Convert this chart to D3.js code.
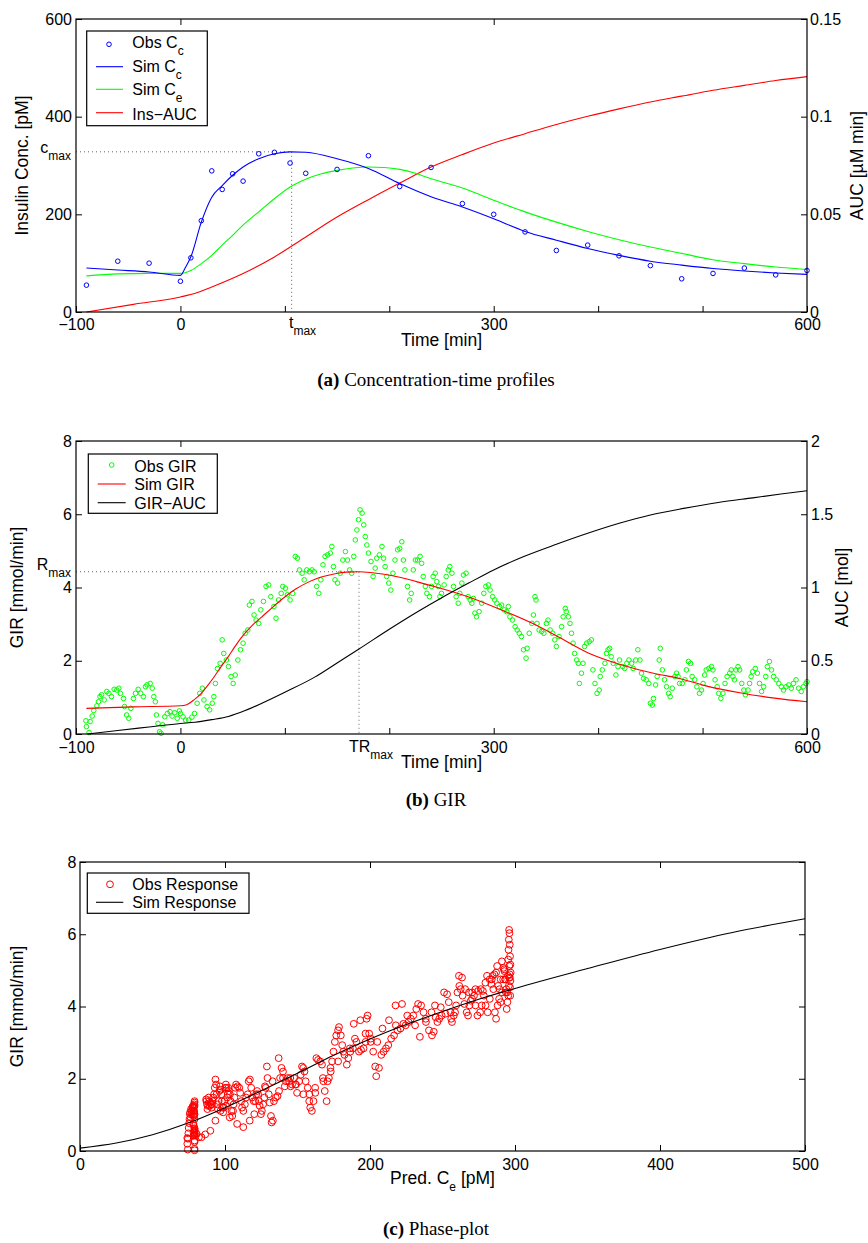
<!DOCTYPE html>
<html>
<head>
<meta charset="utf-8">
<script src="https://cdn.jsdelivr.net/npm/d3@7"></script>
<style>
  body { margin: 0; background: #fff; }
</style>
</head>
<body>
<svg id="fig" width="868" height="1243"></svg>
<script>
// ---- (a) insulin concentration / AUC ----
const ccObs = [[-90,55],[-60,104],[-30,100],[0,63],[10,111],[20,187],[30,289],[40,251],[50,283],[60,268],
  [75,324],[90,327],[105,305],[120,284],[150,292],[180,320],[210,257],[240,296],[270,222],[300,200],
  [330,164],[360,126],[390,137],[420,115],[450,95],[480,68],[510,79],[540,90],[570,76],[600,85]];
const ccSim = [[-90,90],[-60,86],[-30,82],[0,75],[5,92],[10,113],[20,184],[30,235],[40,259],[50,280],
  [60,297],[75,314],[90,324],[105,328],[120,327],[150,314],[180,294],[210,263],[240,236],[270,215],
  [300,191],[330,165],[360,147],[390,130],[420,116],[450,104],[480,96],[510,89],[540,84],[570,80],[600,77]];
const ceSim = [[-90,74],[-60,78],[-30,79],[0,79],[10,85],[20,99],[30,116],[40,137],[50,157],[60,178],
  [75,205],[90,232],[105,256],[120,272],[135,283],[150,290],[165,295],[180,297],[195,296],[210,292],
  [225,284],[240,273],[270,254],[300,229],[330,205],[360,184],[390,165],[420,148],[450,133],[480,120],
  [510,107],[540,99],[570,92],[600,87]];
const insAuc = [[-90,0],[-45,0.0039],[0,0.0077],[15,0.0097],[30,0.0128],[60,0.0197],[90,0.0282],
  [120,0.0384],[150,0.0486],[180,0.0575],[210,0.066],[240,0.0742],[270,0.0806],[300,0.0865],
  [330,0.0913],[360,0.096],[390,0.1002],[420,0.104],[450,0.1075],[480,0.1105],[510,0.1135],
  [540,0.116],[570,0.1185],[600,0.1205]];
const tMax = 106.5, cMax = 328;

// ---- (b) glucose infusion rate ----
const girObs = [[-90.5,0.36],[-90,0.20],[-87.5,0.04],[-86.5,0.34],[-84.5,0.49],[-83,0.64],[-80,0.77],
  [-78.5,0.88],[-77,1.02],[-75.5,1.07],[-73,0.93],[-70.5,1.16],[-68.5,1.11],[-66,1.02],[-63.5,1.22],
  [-61,1.2],[-59,1.25],[-57.5,1.11],[-54.5,0.97],[-53.5,0.75],[-51.5,0.52],[-49.5,0.43],[-47.5,0.7],
  [-45,0.97],[-43,1.11],[-40.5,1.22],[-38,1.11],[-35.5,1.02],[-33.5,1.29],[-32,1.34],[-29,1.38],
  [-27,1.25],[-25.5,1.02],[-24,0.88],[-23,0.52],[-21.5,0.29],[-20,0.06],[-18.5,0.02],[-17,0.25],
  [-15,0.47],[-12.5,0.56],[-10,0.61],[-8,0.49],[-5.5,0.58],[-3,0.43],[-1,0.63],[0,0.56],[2.5,0.47],
  [5,0.38],[8,0.38],[11,0.46],[13.5,0.56],[16,0.84],[18.5,1.11],[21,1.25],[22.5,0.93],[25.5,0.75],
  [28,0.66],[30.5,0.84],[32,1.02],[33.5,1.38],[35.5,1.79],[38,1.93],[40,2.57],[41.5,2.2],[44,2.02],
  [46,1.84],[48.5,1.57],[50.5,1.38],[52.5,1.61],[55,2.02],[57.5,2.3],[60,2.48],[62,2.75],[64.5,2.84],
  [66,3.52],[68.5,3.62],[70.5,3.25],[72.5,3.11],[75,3.02],[77,3.39],[79.5,3.62],[82,4.03],[84.5,4.07],
  [86.5,3.75],[89.5,3.48],[91.5,3.16],[94,3.66],[96.5,3.84],[98,4.03],[100.5,3.98],[102.5,3.8],
  [105,3.66],[107.5,3.84],[110,4.85],[112,4.8],[114,4.48],[116.5,4.39],[118.5,4.21],[121,4.48],
  [123.5,4.43],[126,4.48],[128,4.43],[130.5,4.03],[132.5,3.84],[134.5,4.21],[136.5,4.62],[138.5,4.85],
  [141,4.89],[143.5,4.94],[145,5.12],[146.5,4.57],[148,4.21],[150.5,4.12],[153,4.39],[155.5,4.75],
  [158,4.98],[160,4.75],[162,4.48],[164,4.39],[166,4.85],[167.5,5.3],[169,5.57],[170.5,5.85],
  [172,6.12],[174,6.03],[175.5,5.71],[177,5.39],[178.5,5.16],[180,4.94],[182.5,4.71],[184.5,4.3],
  [186.5,4.53],[188,4.8],[190.5,4.89],[193,5.12],[194.5,4.8],[196,4.57],[197.5,4.3],[199.5,4.12],
  [201.5,3.93],[203.5,4.39],[205.5,4.75],[208,5.03],[210,5.07],[212,5.25],[213.5,4.75],[215,4.48],
  [217.5,4.03],[219.5,3.66],[221,3.84],[223,4.48],[225,4.75],[227,4.75],
  [229.5,4.85],[231,4.66],[232.5,4.3],[234.5,4.03],[236,3.84],[238.5,3.75],[240.5,4.03],[242,4.3],
  [244,4.39],[245.5,4.16],[247,4.03],[248.5,3.75],[250,3.84],[252.5,4.07],[254.5,4.3],[256.5,4.48],
  [258,4.57],[260,4.39],[261.5,4.03],[264,3.75],[266,3.57],[267.5,3.84],[269.5,4.12],[271,4.34],
  [273.5,4.39],[275.5,3.75],[277.5,3.66],[279,3.57],[280.5,3.7],[282,3.3],[283.5,3.2],[286,3.34],
  [288.5,3.57],[290.5,3.84],[292.5,4.03],[295,4.07],[296.5,3.93],[299,3.75],[301,3.66],[303,3.57],
  [305.5,3.48],[307.5,3.52],[310,3.39],[312.5,3.34],[314,3.48],[315.5,3.2],[318,3.11],[320.5,2.93],
  [322.5,2.84],[324.5,2.75],[326.5,2.66],[328.5,2.3],[331,2.07],[332,2.34],[334,2.75],[336.5,3.02],
  [338,3.25],[339.5,3.75],[340.5,3.66],[341.5,3.02],[343.5,2.84],[346,2.8],[348,2.75],[350.5,3.02],
  [352,3.11],[354,2.84],[356.5,2.75],[358.5,2.57],[360,2.39],[362.5,2.66],[365,2.93],[366.5,3.2],
  [368.5,3.43],[369.5,3.34],[371.5,3.2],[373,3.02],[374.5,2.75],[376,2.48],[377.5,2.2],[379.5,2.02],
  [381,1.93],[382,1.38],[384,1.66],[385.5,1.93],[387,2.39],[389,2.48],[391.5,2.52],[393.5,2.57],
  [395,1.75],[397,1.38],[399,1.11],[401,1.2],[402,1.57],[404,1.75],[406.5,1.93],[408,2.2],[409.5,2.3],
  [411,2.34],[412.5,2.11],[414.5,1.93],[417,1.61],[419,1.84],[420.5,2.02],[423.5,1.84],[425.5,1.79],
  [427.5,1.93],[429.5,2.02],[432,1.93],[433.5,1.79],[436,2.02],[438,2.3],[440,2.02],[441.5,1.66],
  [443.5,1.52],[446,1.48],[448.5,1.38],[450,0.84],[452,0.79],[453,0.97],[455,1.34],[456.5,1.57],
  [458.5,2.02],[459.5,2.34],[461.5,1.75],[463.5,1.48],[465.5,1.29],[467.5,1.11],[469,1.02],[471,1.25],
  [473.5,1.57],[475,1.66],[476.5,1.57],[478,1.38],[480.5,1.38],[483,1.48],[484.5,1.75],[486.5,1.98],
  [488.5,1.93],[490,1.57],[492.5,1.48],[494.5,1.29],[497,1.11],[499,1.2],[500.5,1.38],[502,1.61],
  [503.5,1.75],[506,1.79],[508.5,1.84],[510,1.75],[512,1.48],[514,1.29],[515.5,1.11],[517.5,0.97],
  [519.5,1.11],[521.5,1.38],[523.5,1.57],[526,1.66],[527.5,1.75],[529,1.57],[530.5,1.48],[532,1.75],
  [534,1.84],[535.5,1.75],[537.5,1.38],[539.5,1.2],[541,1.07],[543.5,1.2],[545,1.38],[546.5,1.57],
  [548,1.7],[550.5,1.79],[552.5,1.66],[554.5,1.38],[556.5,1.16],[558.5,1.29],[560.5,1.57],[562,1.84],
  [564,1.98],[566,1.75],[568,1.57],[570.5,1.48],[573,1.38],[575.5,1.29],[577.5,1.2],[580,1.29],
  [582.5,1.34],[585,1.25],[587,1.38],[589.5,1.48],[592,1.25],[594.5,1.16],[596.5,1.29],[599,1.38],[600,1.43]];
const girSim = [[-90,0.70],[-45,0.74],[0,0.77],[6,0.80],[13,0.93],[19,1.08],[26,1.32],[32,1.55],
  [38,1.8],[46,2.12],[52,2.38],[58,2.62],[64,2.82],[70,3.0],[78,3.2],[89,3.48],[99,3.72],[110,3.95],
  [122,4.14],[134,4.28],[147,4.37],[159,4.42],[171,4.43],[182,4.41],[195,4.36],[210,4.28],[226,4.16],
  [244,4.02],[276,3.74],[308,3.38],[340,2.98],[360,2.68],[390,2.22],[422,1.89],[454,1.65],[476,1.53],
  [505,1.30],[537,1.12],[569,0.98],[600,0.88]];
const girAuc = [[-89,0],[-60,0.024],[-30,0.048],[0,0.072],[14,0.08],[30,0.098],[46,0.12],[62,0.16],
  [78,0.21],[100,0.285],[129,0.39],[150,0.485],[171,0.58],[200,0.715],[229.5,0.845],[249,0.925],
  [276,1.03],[300,1.12],[330,1.215],[360,1.295],[390,1.37],[421,1.44],[450,1.495],[482,1.54],
  [515,1.58],[548,1.612],[575,1.638],[600,1.66]];
const trMax = 171, rMax = 4.43;

// ---- (c) phase plot ----
const simResp = [[0,0.08],[25,0.22],[50,0.45],[75,0.78],[100,1.2],[125,1.67],[150,2.15],[175,2.65],
  [200,3.1],[225,3.5],[250,3.86],[275,4.2],[300,4.5],[350,5.05],[400,5.58],[450,6.05],[500,6.43]];

// tick labels
const timeTicks = [-100, 0, 100, 200, 300, 400, 500, 600];
const timeLabels = ['\u2212100', '0', '', '', '300', '', '', '600'];
const concTicks = [0, 200, 400, 600];
const insAucTicks = [0, 0.05, 0.1, 0.15];
const insAucLabels = ['0', '0.05', '0.1', '0.15'];
const girTicks = [0, 2, 4, 6, 8];
const girAucTicks = [0, 0.5, 1, 1.5, 2];
const girAucLabels = ['0', '0.5', '1', '1.5', '2'];
const ceTicks = [0, 100, 200, 300, 400, 500];

const svg = d3.select('#fig');
const SANS = '"Liberation Sans", Arial, Helvetica, sans-serif';
const SERIF = '"Liberation Serif", "Times New Roman", serif';

function axis(maker, scale, ticks, labels, tx, ty, pad) {
  const g = svg.append('g')
    .attr('transform', 'translate(' + tx + ',' + ty + ')')
    .call(maker(scale).tickValues(ticks).tickSize(-6).tickPadding(pad)
      .tickFormat(function(d, i) { return labels ? labels[i] : ''; }));
  // d3 puts its own font on the group, so override it afterwards
  g.attr('font-family', SANS).attr('font-size', 16);
  g.select('.domain').remove();
  g.selectAll('line').attr('stroke', '#000');
  g.selectAll('text').attr('fill', '#000');
}

function frame(x, y) {
  const xr = x.range(), yr = y.range();
  svg.append('rect').attr('x', xr[0]).attr('y', yr[1])
    .attr('width', xr[1] - xr[0]).attr('height', yr[0] - yr[1])
    .attr('fill', 'none').attr('stroke', '#000').attr('stroke-width', 1.2);
}

function subText(x, y, parts, anchor, size) {
  const t = svg.append('text').attr('x', x).attr('y', y)
    .attr('font-family', SANS).attr('font-size', size || 16)
    .attr('text-anchor', anchor || 'start').attr('fill', '#000');
  let shift = 0;
  parts.forEach(function(p) {
    const sub = p.charAt(0) === '_';
    const dy = (sub ? 7 : 0) - shift;
    shift = sub ? 7 : 0;
    t.append('tspan').attr('dy', dy).attr('font-size', sub ? 12 : null).text(sub ? p.slice(1) : p);
  });
  return t;
}

function vlabel(x, y, text) {
  svg.append('text').attr('transform', 'translate(' + x + ',' + y + ') rotate(-90)')
    .attr('text-anchor', 'middle').attr('font-family', SANS).attr('font-size', 17.5)
    .attr('fill', '#000').text(text);
}

function curve(data, x, y, color) {
  svg.append('path').datum(data)
    .attr('d', d3.line().x(d => x(d[0])).y(d => y(d[1])).curve(d3.curveMonotoneX))
    .attr('fill', 'none').attr('stroke', color).attr('stroke-width', 1.1);
}

function dots(data, x, y, color, r) {
  svg.append('g').selectAll('circle').data(data).join('circle')
    .attr('cx', d => x(d[0])).attr('cy', d => y(d[1])).attr('r', r)
    .attr('fill', 'none').attr('stroke', color).attr('stroke-width', 1);
}

function dotted(x1, y1, x2, y2) {
  svg.append('line').attr('x1', x1).attr('y1', y1).attr('x2', x2).attr('y2', y2)
    .attr('stroke', '#666').attr('stroke-width', 1).attr('stroke-dasharray', '1,3');
}

function legendBox(x0, y0, x1, y1) {
  svg.append('rect').attr('x', x0).attr('y', y0).attr('width', x1 - x0).attr('height', y1 - y0)
    .attr('fill', '#fff').attr('stroke', '#000').attr('stroke-width', 1.2);
}
function legendLine(x0, x1, y, color) {
  svg.append('line').attr('x1', x0).attr('x2', x1).attr('y1', y).attr('y2', y)
    .attr('stroke', color).attr('stroke-width', 1.1);
}
function legendDot(cx, cy, color, r) {
  svg.append('circle').attr('cx', cx).attr('cy', cy).attr('r', r)
    .attr('fill', 'none').attr('stroke', color).attr('stroke-width', 1);
}

function caption(y, tag, text) {
  const t = svg.append('text').attr('x', 436).attr('y', y).attr('text-anchor', 'middle')
    .attr('font-family', SERIF).attr('font-size', 19).attr('fill', '#000');
  t.append('tspan').attr('font-weight', 'bold').text(tag);
  t.append('tspan').text(' ' + text);
}

// ================= panel (a) =================
const xA = d3.scaleLinear().domain([-100, 600]).range([76, 807]);
const yA = d3.scaleLinear().domain([0, 600]).range([312, 19]);
const yA2 = d3.scaleLinear().domain([0, 0.15]).range([312, 19]);

dotted(xA(-100), yA(cMax), xA(tMax), yA(cMax));
dotted(xA(tMax), yA(cMax), xA(tMax), yA(0));
curve(insAuc, xA, yA2, '#ff0000');
curve(ceSim, xA, yA, '#00ff00');
curve(ccSim, xA, yA, '#0000ff');
dots(ccObs, xA, yA, '#0000ff', 2.3);

axis(d3.axisBottom, xA, timeTicks, timeLabels, 0, 312, 6.6);
axis(d3.axisTop, xA, [0, 300], null, 0, 19, 3);
axis(d3.axisLeft, yA, concTicks, concTicks.map(String), 76, 0, 4);
axis(d3.axisRight, yA2, insAucTicks, insAucLabels, 807, 0, 3);
frame(xA, yA);

subText(71, yA(cMax) + 1.5, ['c', '_max'], 'end');
subText(289, 328, ['t', '_max']);
vlabel(28.3, 165.5, 'Insulin Conc. [pM]');
vlabel(863.3, 165.5, 'AUC [\u00b5M min]');
subText(441.5, 346, ['Time [min]'], 'middle', 17.5);

legendBox(86.7, 31, 207.3, 125.7);
legendDot(109, 44.3, '#0000ff', 2.3);
subText(132.3, 48.3, ['Obs C', '_c']);
legendLine(96, 123, 66.7, '#0000ff');
subText(132.3, 71.7, ['Sim C', '_c']);
legendLine(96, 123, 89.3, '#00ff00');
subText(132.3, 95, ['Sim C', '_e']);
legendLine(96, 123, 112.7, '#ff0000');
subText(132.3, 120, ['Ins\u2212AUC']);

caption(386, '(a)', 'Concentration-time profiles');

// ================= panel (b) =================
const xB = d3.scaleLinear().domain([-100, 600]).range([76, 807]);
const yB = d3.scaleLinear().domain([0, 8]).range([734, 441]);
const yB2 = d3.scaleLinear().domain([0, 2]).range([734, 441]);

dotted(xB(-100), yB(rMax), xB(trMax), yB(rMax));
dotted(xB(trMax), yB(rMax), xB(trMax), yB(0));
dots(girObs, xB, yB, '#00ff00', 2.3);
curve(girSim, xB, yB, '#ff0000');
curve(girAuc, xB, yB2, '#000000');

axis(d3.axisBottom, xB, timeTicks, timeLabels, 0, 734, 7.6);
axis(d3.axisTop, xB, [0, 300], null, 0, 441, 3);
axis(d3.axisLeft, yB, girTicks, girTicks.map(String), 76, 0, 4);
axis(d3.axisRight, yB2, girAucTicks, girAucLabels, 807, 0, 4);
frame(xB, yB);

subText(71, yB(rMax) - 2, ['R', '_max'], 'end');
subText(349, 751.7, ['TR', '_max']);
vlabel(23.3, 587.5, 'GIR [mmol/min]');
vlabel(848.3, 587.5, 'AUC [mol]');
subText(441.5, 768, ['Time [min]'], 'middle', 17.5);

legendBox(88.3, 454, 217.3, 513.3);
legendDot(111.7, 465, '#00ff00', 2.3);
subText(134.3, 471.7, ['Obs GIR']);
legendLine(97.7, 125.7, 484, '#ff0000');
subText(134.3, 490, ['Sim GIR']);
legendLine(97.7, 125.7, 502.7, '#000');
subText(134.3, 509, ['GIR\u2212AUC']);

caption(806, '(b)', 'GIR');

// ================= panel (c) =================
const xC = d3.scaleLinear().domain([0, 500]).range([80, 805]);
const yC = d3.scaleLinear().domain([0, 8]).range([1151, 862]);
// predicted effect-site concentration at each GIR sampling time
const ceAt = d3.scaleLinear().domain(ceSim.map(d => d[0])).range(ceSim.map(d => d[1])).clamp(true);
const phase = girObs.map(d => [ceAt(d[0]), d[1]]);

dots(phase, xC, yC, '#ff0000', 3.4);
curve(simResp, xC, yC, '#000000');

axis(d3.axisBottom, xC, ceTicks, ceTicks.map(String), 0, 1151, 7.6);
axis(d3.axisTop, xC, [100, 200, 300, 400], null, 0, 862, 3);
axis(d3.axisLeft, yC, girTicks, girTicks.map(String), 80, 0, 3.5);
axis(d3.axisRight, yC, girTicks, null, 805, 0, 3);
frame(xC, yC);

vlabel(23.3, 1006.5, 'GIR [mmol/min]');
subText(442.5, 1184, ['Pred. C', '_e', ' [pM]'], 'middle', 17.5);

legendBox(87.3, 873, 249, 913.3);
legendDot(110, 884.3, '#ff0000', 3.4);
subText(132.3, 890, ['Obs Response']);
legendLine(96, 123.3, 902.3, '#000');
subText(132.3, 908.3, ['Sim Response']);

caption(1235, '(c)', 'Phase-plot');
</script>
</body>
</html>
